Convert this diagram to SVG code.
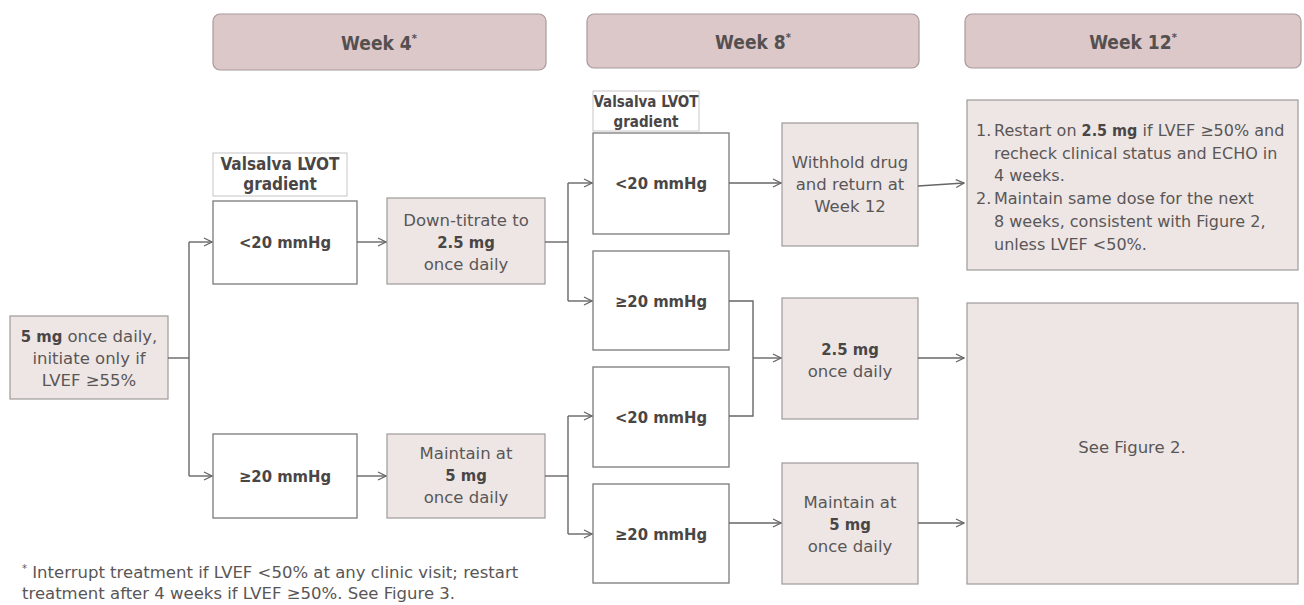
<svg xmlns="http://www.w3.org/2000/svg" width="1304" height="605" viewBox="0 0 1304 605">
<defs>
<style>
text{font-family:"DejaVu Sans","Noto Sans",sans-serif;fill:#5a5656;}
.hdr{fill:#dcc7c9;stroke:#a89a9b;stroke-width:1.2;}
.hdrt{font-family:"DejaVu Sans Condensed","DejaVu Sans",sans-serif;font-size:19px;font-weight:700;fill:#555050;text-anchor:middle;}
.wbox{fill:#fff;stroke:#7a7a7a;stroke-width:1.3;}
.gbox{fill:#ede6e5;stroke:#9e9a99;stroke-width:1.2;}
.lbl{fill:#fff;stroke:#c8c4c4;stroke-width:1;}
.t{font-size:16.5px;text-anchor:middle;}
.tb{font-family:"DejaVu Sans Condensed","DejaVu Sans",sans-serif;font-size:16.5px;font-weight:700;text-anchor:middle;fill:#4a4646;}
.tl{font-family:"DejaVu Sans Condensed","DejaVu Sans",sans-serif;font-size:17px;font-weight:700;text-anchor:middle;fill:#4a4646;}
.tls{font-family:"DejaVu Sans Condensed","DejaVu Sans",sans-serif;font-size:15px;font-weight:700;text-anchor:middle;fill:#4a4646;}
.b{font-family:"DejaVu Sans Condensed","DejaVu Sans",sans-serif;font-weight:700;fill:#4a4646;}
.lt{font-size:16px;}
.conn path{fill:none;stroke:#666;stroke-width:1.4;}
</style>
<marker id="ah" viewBox="0 0 10 10" refX="9" refY="5" markerWidth="10" markerHeight="10" markerUnits="userSpaceOnUse" orient="auto">
<path d="M1,1 L9,5 L1,9" fill="none" stroke="#666" stroke-width="1.3"/>
</marker>
</defs>
<rect width="1304" height="605" fill="#fff"/>

<g id="hdr-week4"><rect class="hdr" x="213" y="14" width="333" height="56" rx="7"/><text class="hdrt" x="379" y="50">Week 4<tspan font-size="11" dy="-8">*</tspan></text></g>
<g id="hdr-week8"><rect class="hdr" x="587" y="14" width="332" height="54" rx="7"/><text class="hdrt" x="753" y="49">Week 8<tspan font-size="11" dy="-8">*</tspan></text></g>
<g id="hdr-week12"><rect class="hdr" x="965" y="14" width="336" height="54" rx="7"/><text class="hdrt" x="1133" y="49">Week 12<tspan font-size="11" dy="-8">*</tspan></text></g>

<g id="start"><rect class="gbox" x="10" y="316" width="158" height="83"/>
<text class="t" x="89" y="342"><tspan class="b">5 mg</tspan> once daily,</text>
<text class="t" x="89" y="364">initiate only if</text>
<text class="t" x="89" y="386">LVEF ≥55%</text></g>

<g id="lbl-w4"><rect class="lbl" x="213" y="153" width="134" height="43"/>
<text class="tl" x="280" y="170">Valsalva LVOT</text><text class="tl" x="280" y="190">gradient</text></g>
<g id="w4-lt20"><rect class="wbox" x="213" y="201" width="144" height="83"/><text class="tb" x="285" y="248">&lt;20 mmHg</text></g>
<g id="w4-ge20"><rect class="wbox" x="213" y="434" width="144" height="84"/><text class="tb" x="285" y="482">≥20 mmHg</text></g>

<g id="w4-down"><rect class="gbox" x="387" y="198" width="158" height="86"/>
<text class="t" x="466" y="226">Down-titrate to</text>
<text class="tb" x="466" y="248">2.5 mg</text>
<text class="t" x="466" y="270">once daily</text></g>
<g id="w4-maintain"><rect class="gbox" x="387" y="434" width="158" height="84"/>
<text class="t" x="466" y="459">Maintain at</text>
<text class="tb" x="466" y="481">5 mg</text>
<text class="t" x="466" y="503">once daily</text></g>

<g id="lbl-w8"><rect class="lbl" x="593" y="91" width="106" height="40"/>
<text class="tls" x="646" y="107">Valsalva LVOT</text><text class="tls" x="646" y="127">gradient</text></g>
<g id="w8-a-lt20"><rect class="wbox" x="593" y="133" width="136" height="101"/><text class="tb" x="661" y="189">&lt;20 mmHg</text></g>
<g id="w8-a-ge20"><rect class="wbox" x="593" y="251" width="136" height="99"/><text class="tb" x="661" y="307">≥20 mmHg</text></g>
<g id="w8-b-lt20"><rect class="wbox" x="593" y="367" width="136" height="100"/><text class="tb" x="661" y="423">&lt;20 mmHg</text></g>
<g id="w8-b-ge20"><rect class="wbox" x="593" y="484" width="136" height="99"/><text class="tb" x="661" y="540">≥20 mmHg</text></g>

<g id="w8-withhold"><rect class="gbox" x="782" y="123" width="136" height="123"/>
<text class="t" x="850" y="168">Withhold drug</text>
<text class="t" x="850" y="190">and return at</text>
<text class="t" x="850" y="212">Week 12</text></g>
<g id="w8-25"><rect class="gbox" x="782" y="298" width="136" height="121"/>
<text class="tb" x="850" y="355">2.5 mg</text>
<text class="t" x="850" y="377">once daily</text></g>
<g id="w8-maintain"><rect class="gbox" x="782" y="463" width="136" height="121"/>
<text class="t" x="850" y="508">Maintain at</text>
<text class="tb" x="850" y="530">5 mg</text>
<text class="t" x="850" y="552">once daily</text></g>

<g id="w12-restart"><rect class="gbox" x="967" y="100" width="331" height="170"/>
<text class="lt" x="976" y="136">1.</text><text class="lt" x="994" y="136">Restart on <tspan class="b">2.5 mg</tspan> if LVEF ≥50% and</text>
<text class="lt" x="994" y="159">recheck clinical status and ECHO in</text>
<text class="lt" x="994" y="181">4 weeks.</text>
<text class="lt" x="976" y="204">2.</text><text class="lt" x="994" y="204">Maintain same dose for the next</text>
<text class="lt" x="994" y="227">8 weeks, consistent with Figure 2,</text>
<text class="lt" x="994" y="250">unless LVEF &lt;50%.</text></g>
<g id="w12-see"><rect class="gbox" x="967" y="303" width="331" height="281"/>
<text class="t" x="1132" y="453">See Figure 2.</text></g>

<g class="conn" id="connectors">
<path d="M168,358 H189"/>
<path d="M189,242 V476"/>
<path d="M189,242 H212" marker-end="url(#ah)"/>
<path d="M189,476 H212" marker-end="url(#ah)"/>
<path d="M357,242 H386" marker-end="url(#ah)"/>
<path d="M357,476 H386" marker-end="url(#ah)"/>
<path d="M545,242 H568"/>
<path d="M568,183 V301"/>
<path d="M568,183 H592" marker-end="url(#ah)"/>
<path d="M568,301 H592" marker-end="url(#ah)"/>
<path d="M545,476 H568"/>
<path d="M568,416 V534"/>
<path d="M568,416 H592" marker-end="url(#ah)"/>
<path d="M568,534 H592" marker-end="url(#ah)"/>
<path d="M729,183 H781" marker-end="url(#ah)"/>
<path d="M918,186 L964,183" marker-end="url(#ah)"/>
<path d="M729,301 H753 V416 H729"/>
<path d="M753,358 H781" marker-end="url(#ah)"/>
<path d="M918,358 H964" marker-end="url(#ah)"/>
<path d="M729,523 H781" marker-end="url(#ah)"/>
<path d="M918,523 H964" marker-end="url(#ah)"/>
</g>

<g id="footnote">
<text x="22" y="578" style="font-size:16.5px"><tspan font-size="10" dy="-6">*</tspan><tspan dy="6"> Interrupt treatment if LVEF &lt;50% at any clinic visit; restart</tspan></text>
<text x="22" y="599" style="font-size:16.5px">treatment after 4 weeks if LVEF ≥50%. See Figure 3.</text>
</g>
</svg>
